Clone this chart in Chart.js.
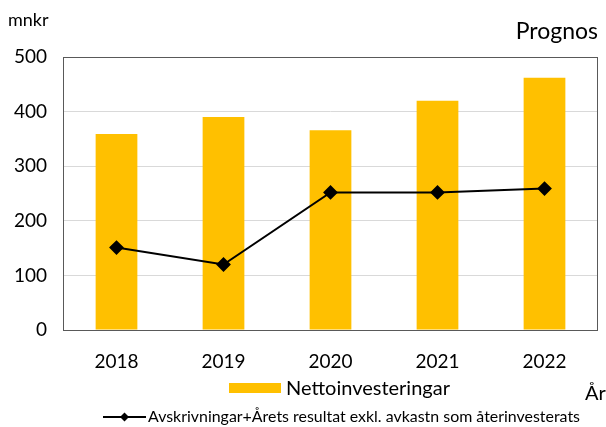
<!DOCTYPE html>
<html>
<head>
<meta charset="utf-8">
<script src="https://cdn.jsdelivr.net/npm/chart.js@4"></script>
<style>
  html, body { margin: 0; padding: 0; background: #fff; }
  #wrap { position: relative; width: 606px; height: 427px; }
</style>
</head>
<body>
<div id="wrap"><canvas id="chart" width="606" height="427"></canvas></div>
<script>
// data
const years = ['2018', '2019', '2020', '2021', '2022'];
const nettoinvesteringar = [359, 390, 366, 420, 462];
const avskrivningar = [151, 120, 252, 252, 259];
const yTicks = [0, 100, 200, 300, 400, 500];

const FONT = 'Lato, "Open Sans", sans-serif';

// ram, rubriker och legend ritas direkt på canvas
const extras = {
  id: 'extras',
  afterDraw(chart) {
    const ctx = chart.ctx;
    const a = chart.chartArea;
    ctx.save();
    ctx.strokeStyle = '#595959';
    ctx.lineWidth = 1;
    ctx.strokeRect(Math.round(a.left) + 0.5, Math.round(a.top) + 0.5,
      Math.round(a.right - a.left) - 1, Math.round(a.bottom - a.top));

    ctx.fillStyle = '#000';
    ctx.textBaseline = 'middle';
    ctx.font = '18px ' + FONT;
    ctx.textAlign = 'left';
    ctx.fillText('mnkr', 8, 20);
    ctx.font = '23px ' + FONT;
    ctx.textAlign = 'right';
    ctx.fillText('Prognos', 598, 32);
    ctx.font = '20px ' + FONT;
    ctx.textAlign = 'left';
    ctx.fillText('År', 585, 394);

    // legend rad 1
    ctx.fillStyle = '#FFC000';
    ctx.fillRect(229, 383, 52, 10);
    ctx.fillStyle = '#000';
    ctx.font = '20px ' + FONT;
    ctx.fillText('Nettoinvesteringar', 286, 389);

    // legend rad 2
    ctx.strokeStyle = '#000';
    ctx.lineWidth = 2;
    ctx.beginPath();
    ctx.moveTo(103, 417);
    ctx.lineTo(146, 417);
    ctx.stroke();
    ctx.beginPath();
    ctx.moveTo(124.5, 412.5);
    ctx.lineTo(129, 417);
    ctx.lineTo(124.5, 421.5);
    ctx.lineTo(120, 417);
    ctx.closePath();
    ctx.fill();
    const txt = 'Avskrivningar+Årets resultat exkl. avkastn som återinvesterats';
    ctx.font = '16px ' + FONT;
    const w = ctx.measureText(txt).width;
    ctx.translate(148, 417);
    ctx.scale(432 / w, 1);
    ctx.fillText(txt, 0, 0);
    ctx.restore();
  }
};

new Chart(document.getElementById('chart'), {
  type: 'bar',
  data: {
    labels: years,
    datasets: [
      {
        type: 'line',
        label: 'Avskrivningar+Årets resultat exkl. avkastn som återinvesterats',
        data: avskrivningar,
        borderColor: '#000',
        backgroundColor: '#000',
        borderWidth: 2,
        pointStyle: 'rectRot',
        pointRadius: 6,
        tension: 0,
        order: 0
      },
      {
        label: 'Nettoinvesteringar',
        data: nettoinvesteringar,
        backgroundColor: '#FFC000',
        categoryPercentage: 1,
        barPercentage: 0.39,
        order: 1
      }
    ]
  },
  options: {
    responsive: false,
    animation: false,
    layout: { padding: { top: 57, right: 8, left: 0, bottom: 0 } },
    plugins: {
      legend: { display: false },
      tooltip: { enabled: false }
    },
    scales: {
      x: {
        grid: { display: false },
        border: { display: false },
        ticks: { color: '#000', font: { family: FONT, size: 19 }, padding: 12 },
        afterFit(s) { s.height = 97; }
      },
      y: {
        min: 0,
        max: 500,
        afterBuildTicks(s) { s.ticks = yTicks.map(v => ({ value: v })); },
        grid: { color: '#d9d9d9', drawTicks: false },
        border: { display: false },
        ticks: { color: '#000', font: { family: FONT, size: 19 }, padding: 16 },
        afterFit(s) { s.width = 63; }
      }
    }
  },
  plugins: [extras]
});
</script>
</body>
</html>
